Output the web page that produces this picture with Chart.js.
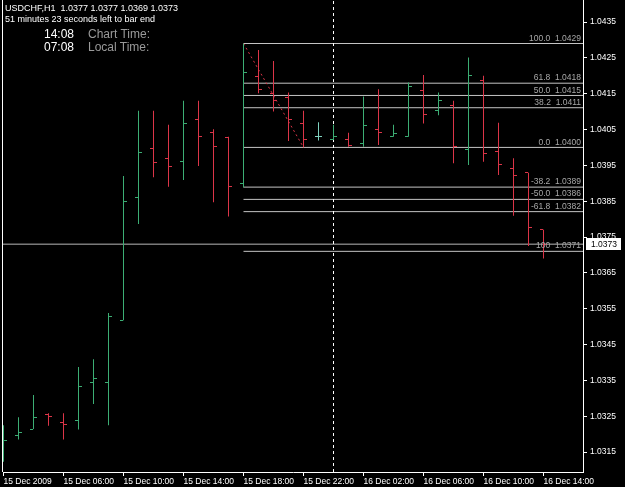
<!DOCTYPE html>
<html>
<head>
<meta charset="utf-8">
<script src="https://cdn.jsdelivr.net/npm/chart.js@4.4.1/dist/chart.umd.min.js"></script>
<style>
  html, body { margin: 0; padding: 0; background: #000; }
  #wrap { position: relative; width: 625px; height: 487px; }
  canvas { display: block; }
  .info { position: absolute; color: #fff; font-family: "Liberation Sans", Arial, sans-serif; white-space: pre; }
  .gray { color: #9a9a9a; }
</style>
</head>
<body>
<div id="wrap">
  <canvas id="chart" width="625" height="487"></canvas>
  <div class="info" style="left:5px;top:3px;font-size:9px;line-height:11px">USDCHF,H1  1.0377 1.0377 1.0369 1.0373</div>
  <div class="info" style="left:5px;top:14px;font-size:9px;line-height:11px">51 minutes 23 seconds left to bar end</div>
  <div class="info" style="left:44px;top:27px;font-size:12px;line-height:14px">14:08</div>
  <div class="info gray" style="left:88px;top:27px;font-size:12px;line-height:14px">Chart Time:</div>
  <div class="info" style="left:44px;top:40px;font-size:12px;line-height:14px">07:08</div>
  <div class="info gray" style="left:88px;top:40px;font-size:12px;line-height:14px">Local Time:</div>
</div>
<script>
// H1 bars, 15 Dec 2009 02:00 .. 16 Dec 14:00
const opens  = [1.03160, 1.03197, 1.03214, 1.03256, 1.03233, 1.03237, 1.03345, 1.03345, 1.03518, 1.03859,
                1.03998, 1.03968, 1.03960, 1.04078, 1.04041, 1.04029, 1.03898, 1.04199, 1.04151, 1.04140,
                1.04067, 1.04030, 1.04023, 1.04021, 1.04010, 1.04051, 1.04030, 1.04030, 1.04160, 1.04102,
                1.04118, 1.03995, 1.04188, 1.03988, 1.03942, 1.03929, 1.03770];
const highs  = [1.03225, 1.03247, 1.03309, 1.03258, 1.03258, 1.03387, 1.03409, 1.03538, 1.03920, 1.04102,
                1.04102, 1.04063, 1.04130, 1.04130, 1.04051, 1.04030, 1.04290, 1.04272, 1.04241, 1.04153,
                1.04102, 1.04070, 1.04063, 1.04041, 1.04142, 1.04162, 1.04063, 1.04181, 1.04202, 1.04153,
                1.04130, 1.04251, 1.04200, 1.04069, 1.03970, 1.03929, 1.03770];
const lows   = [1.03123, 1.03185, 1.03214, 1.03223, 1.03185, 1.03213, 1.03284, 1.03225, 1.03518, 1.03786,
                1.03917, 1.03890, 1.03909, 1.03948, 1.03847, 1.03807, 1.03888, 1.04151, 1.04100, 1.04018,
                1.04000, 1.04019, 1.04021, 1.04002, 1.04002, 1.04007, 1.04030, 1.04030, 1.04067, 1.04090,
                1.03956, 1.03951, 1.03960, 1.03923, 1.03809, 1.03725, 1.03690];
const closes = [1.03183, 1.03205, 1.03246, 1.03248, 1.03227, 1.03334, 1.03356, 1.03527, 1.03848, 1.03987,
                1.03959, 1.03948, 1.04067, 1.04030, 1.04002, 1.03892, 1.04209, 1.04162, 1.04130, 1.04079,
                1.04021, 1.04030, 1.04030, 1.04004, 1.04060, 1.04041, 1.04039, 1.04169, 1.04093, 1.04130,
                1.04002, 1.04202, 1.03984, 1.03951, 1.03923, 1.03777, 1.03730];

const timeTickIndex = [0, 4, 8, 12, 16, 20, 24, 28, 32, 36];
const timeTickLabels = ['15 Dec 2009', '15 Dec 06:00', '15 Dec 10:00', '15 Dec 14:00', '15 Dec 18:00',
                        '15 Dec 22:00', '16 Dec 02:00', '16 Dec 06:00', '16 Dec 10:00', '16 Dec 14:00'];
const priceTicks = [1.0315, 1.0325, 1.0335, 1.0345, 1.0355, 1.0365, 1.0375, 1.0385, 1.0395, 1.0405, 1.0415, 1.0425, 1.0435];

// fibo drawn from bar 16 high down to bar 20
const fibStart = 16, fibEnd = 20;
const fibHigh = 1.0429, fibLow = 1.0400;
const fibLevels = [100, 61.8, 50, 38.2, 0, -38.2, -50, -61.8, -100];
const fibNames  = ['100.0', '61.8', '50.0', '38.2', '0.0', '-38.2', '-50.0', '-61.8', '100'];

const daySeparator = 22;
const bidPrice = 1.0373;

const yMin = 1.030942, yMax = 1.044114;
const xMin = -1 / 30, xMax = 38.633;

const FONT = '"Liberation Sans", Arial, sans-serif';
const upColor = '#3cae74', downColor = '#dc3548', flatColor = '#7fd2bf';

const barColors = opens.map((o, i) => closes[i] > o ? upColor : (closes[i] < o ? downColor : flatColor));

function tickCanvas(color, side) {
  const c = document.createElement('canvas');
  c.width = 7; c.height = 1;
  const g = c.getContext('2d');
  g.fillStyle = color;
  g.fillRect(side === 'left' ? 0 : 4, 0, 3, 1);
  return c;
}
const tickImgs = {};
[upColor, downColor, flatColor].forEach(c => {
  tickImgs[c] = { left: tickCanvas(c, 'left'), right: tickCanvas(c, 'right') };
});

function fibPrice(lv) { return fibLow + (fibHigh - fibLow) * lv / 100; }
function fmt(p) { return (Math.round(p * 10000 + 1e-6) / 10000).toFixed(4); }

function hline(y, x0, x1, color, dash, order) {
  return { type: 'line', data: [{x: x0, y: y}, {x: x1, y: y}], borderColor: color, borderWidth: 1,
           borderDash: dash, pointRadius: 0, order: order };
}

const datasets = [
  {
    type: 'bar',
    data: highs.map((h, i) => ({x: i, y: [lows[i], h]})),
    backgroundColor: barColors,
    barThickness: 1,
    inflateAmount: 0,
    borderWidth: 0,
    order: 1
  },
  {
    type: 'line',
    data: opens.map((o, i) => ({x: i, y: o})),
    showLine: false,
    pointRadius: 3,
    pointStyle: ctx => tickImgs[barColors[ctx.dataIndex]].left,
    order: 0
  },
  {
    type: 'line',
    data: closes.map((c, i) => ({x: i, y: c})),
    showLine: false,
    pointRadius: 3,
    pointStyle: ctx => tickImgs[barColors[ctx.dataIndex]].right,
    order: 0
  },
  hline(bidPrice, xMin, xMax, '#b8b8b8', [], 6),
  { type: 'line', data: [{x: daySeparator, y: yMin}, {x: daySeparator, y: yMax}], borderColor: '#ffffff',
    borderWidth: 1, borderDash: [3, 3], pointRadius: 0, order: 5 },
  { type: 'line', data: [{x: fibStart, y: fibHigh}, {x: fibEnd, y: fibLow}], borderColor: downColor,
    borderWidth: 1, borderDash: [2, 3], pointRadius: 0, order: 4 }
];
fibLevels.forEach(lv => datasets.push(hline(fibPrice(lv), fibStart, xMax, '#c4c4c4', [], 7)));

const overlay = {
  id: 'overlay',
  afterDatasetsDraw(chart) {
    const {ctx, chartArea: a, scales: {y}} = chart;
    ctx.save();
    ctx.strokeStyle = '#ffffff';
    ctx.lineWidth = 1;
    ctx.beginPath();
    ctx.moveTo(a.left - 0.5, a.top);
    ctx.lineTo(a.left - 0.5, a.bottom);
    ctx.stroke();

    ctx.font = '8.5px ' + FONT;
    ctx.fillStyle = '#a8a8a8';
    ctx.textAlign = 'right';
    ctx.textBaseline = 'bottom';
    fibLevels.forEach((lv, k) => {
      const p = fibPrice(lv);
      ctx.fillText(fibNames[k] + '  ' + fmt(p), a.right - 2, y.getPixelForValue(p) - 1);
    });
    ctx.restore();
  },
  afterDraw(chart) {
    const {ctx, chartArea: a, scales: {y}} = chart;
    const py = Math.round(y.getPixelForValue(bidPrice));
    ctx.save();
    ctx.fillStyle = '#ffffff';
    ctx.fillRect(a.right + 3, py - 6, 35, 12);
    ctx.fillStyle = '#000000';
    ctx.font = '8.5px ' + FONT;
    ctx.textAlign = 'left';
    ctx.textBaseline = 'middle';
    ctx.fillText(fmt(bidPrice), a.right + 8, py + 0.5);
    ctx.restore();
  }
};

new Chart(document.getElementById('chart'), {
  type: 'bar',
  data: { datasets: datasets },
  options: {
    responsive: false,
    animation: false,
    layout: { autoPadding: false, padding: { left: 3, top: 0, right: 0, bottom: 0 } },
    plugins: { legend: { display: false }, tooltip: { enabled: false } },
    scales: {
      x: {
        type: 'linear',
        offset: false,
        min: xMin,
        max: xMax,
        afterBuildTicks: s => { s.ticks = timeTickIndex.map(v => ({value: v})); },
        afterFit: s => { s.height = 15; s.paddingLeft = 0; s.paddingRight = 0; },
        ticks: {
          autoSkip: false, maxRotation: 0, minRotation: 0, align: 'start', padding: 1,
          color: '#ffffff', font: { family: FONT, size: 8.5 },
          callback: (v, i) => timeTickLabels[i]
        },
        grid: { drawOnChartArea: false, color: '#ffffff', tickLength: 4, offset: false },
        border: { color: '#ffffff' }
      },
      y: {
        position: 'right',
        min: yMin,
        max: yMax,
        afterBuildTicks: s => { s.ticks = priceTicks.map(v => ({value: v})); },
        afterFit: s => { s.width = 42; s.paddingTop = 0; s.paddingBottom = 0; },
        ticks: {
          padding: 3, color: '#ffffff', font: { family: FONT, size: 8.5 },
          callback: v => v.toFixed(4)
        },
        grid: { drawOnChartArea: false, color: '#ffffff', tickLength: 4 },
        border: { color: '#ffffff' }
      }
    }
  },
  plugins: [overlay]
});
</script>
</body>
</html>
